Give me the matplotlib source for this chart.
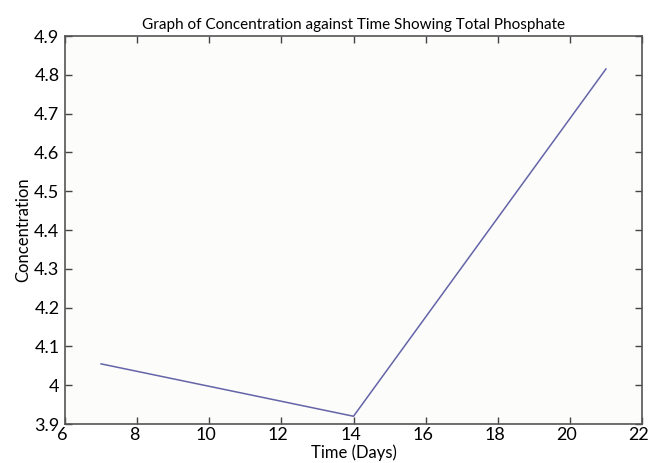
import matplotlib
matplotlib.use("Agg")
import matplotlib.pyplot as plt
import matplotlib.transforms as mtransforms
import numpy as np

days = [7, 14, 21]
concentration = [4.055, 3.92, 4.815]
xticks = [6, 8, 10, 12, 14, 16, 18, 20, 22]
yticks = [3.9, 4.0, 4.1, 4.2, 4.3, 4.4, 4.5, 4.6, 4.7, 4.8, 4.9]
yticklabels = ["3.9", "4", "4.1", "4.2", "4.3", "4.4", "4.5", "4.6", "4.7", "4.8", "4.9"]

plt.rcParams['font.family'] = ['Lato', 'DejaVu Sans']

fig = plt.figure(figsize=(6.49, 4.63), dpi=100)
fig.patch.set_facecolor('white')
ax = fig.add_axes([0.1002, 0.0842, 0.889, 0.838])
ax.set_facecolor('#fcfcfb')
ax.plot(days, concentration, color='#6464a8', linewidth=1.1)
ax.set_xlim(6, 22)
ax.set_ylim(3.9, 4.9)
ax.set_xticks(xticks)
ax.set_xticklabels([str(t) for t in xticks])
ax.set_yticks(yticks)
ax.set_yticklabels(yticklabels)
ax.tick_params(direction='in', top=True, right=True, length=5, width=1,
               color='#444444', labelsize=13)
ax.tick_params(axis='x', pad=2)
ax.tick_params(axis='y', pad=4)
offset = mtransforms.ScaledTranslation(-3 / 100, 0, fig.dpi_scale_trans)
for lbl in ax.get_xticklabels():
    lbl.set_transform(lbl.get_transform() + offset)
for s in ax.spines.values():
    s.set_color('#555555')
    s.set_linewidth(1.2)
ax.set_title('Graph of Concentration against Time Showing Total Phosphate', fontsize=11, pad=5)
ax.set_xlabel('Time (Days)', fontsize=12, labelpad=1)
ax.set_ylabel('Concentration', fontsize=12, labelpad=2)
fig.savefig('out.png', dpi=100)
